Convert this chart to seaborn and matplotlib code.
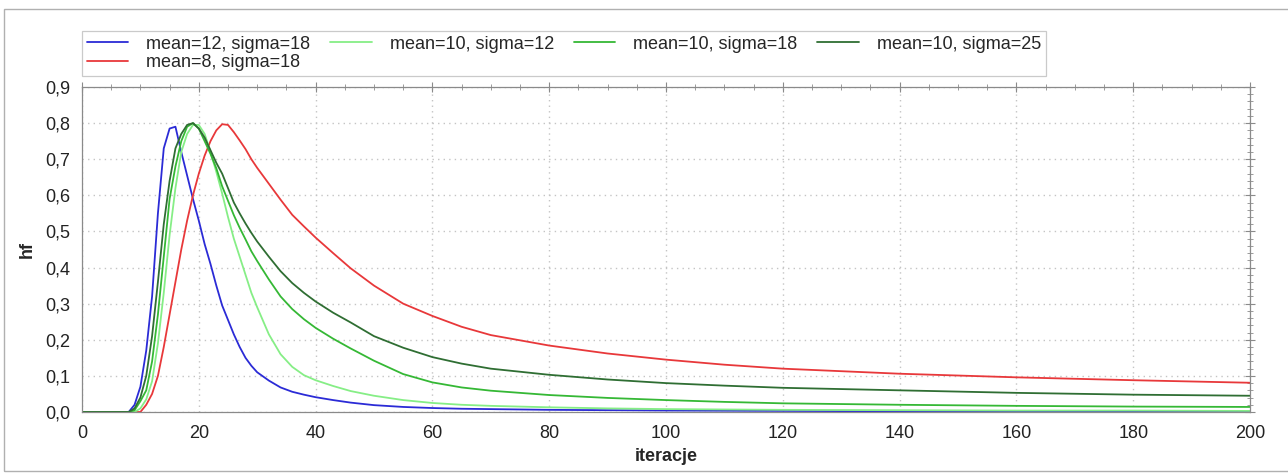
import numpy as np
import pandas as pd
import matplotlib
matplotlib.use("Agg")
import matplotlib.pyplot as plt
import matplotlib.patches as mpatches
from matplotlib.ticker import MultipleLocator, FuncFormatter
import seaborn as sns

# ---- data ----
iterations = [0, 8, 9, 10, 11, 12, 13, 14, 15, 16, 17, 18, 19, 20, 21, 22, 23, 24, 25, 26,
              27, 28, 29, 30, 32, 34, 36, 38, 40, 43, 46, 50, 55, 60, 65, 70, 80, 90, 100,
              110, 120, 140, 160, 180, 200]

hf_m12_s18 = [0, 0, 0.02, 0.07, 0.17, 0.32, 0.55, 0.73, 0.785, 0.79, 0.72, 0.655, 0.59, 0.53,
              0.465, 0.41, 0.35, 0.295, 0.255, 0.215, 0.18, 0.15, 0.128, 0.11, 0.087, 0.068,
              0.056, 0.048, 0.041, 0.033, 0.026, 0.019, 0.014, 0.011, 0.009, 0.008, 0.006,
              0.005, 0.004, 0.0035, 0.003, 0.002, 0.002, 0.001, 0.001]

hf_m8_s18 = [0, 0, 0, 0, 0.02, 0.05, 0.10, 0.18, 0.27, 0.36, 0.45, 0.53, 0.60, 0.66, 0.71,
             0.75, 0.78, 0.797, 0.795, 0.775, 0.752, 0.728, 0.70, 0.676, 0.632, 0.588, 0.546,
             0.514, 0.483, 0.44, 0.398, 0.35, 0.30, 0.266, 0.236, 0.213, 0.184, 0.162, 0.145,
             0.131, 0.12, 0.106, 0.096, 0.088, 0.081]

hf_m10_s12 = [0, 0, 0, 0.01, 0.035, 0.085, 0.19, 0.33, 0.49, 0.62, 0.72, 0.77, 0.795, 0.795,
              0.77, 0.72, 0.665, 0.605, 0.54, 0.48, 0.43, 0.38, 0.33, 0.29, 0.215, 0.16,
              0.125, 0.102, 0.088, 0.072, 0.058, 0.045, 0.033, 0.025, 0.02, 0.017, 0.013,
              0.010, 0.008, 0.007, 0.006, 0.005, 0.004, 0.004, 0.003]

hf_m10_s18 = [0, 0, 0.005, 0.03, 0.06, 0.14, 0.27, 0.43, 0.59, 0.68, 0.75, 0.79, 0.80, 0.785,
              0.75, 0.715, 0.675, 0.625, 0.585, 0.545, 0.51, 0.478, 0.445, 0.418, 0.367, 0.32,
              0.285, 0.257, 0.233, 0.203, 0.176, 0.142, 0.105, 0.082, 0.068, 0.059, 0.047,
              0.039, 0.033, 0.028, 0.024, 0.020, 0.017, 0.015, 0.014]

hf_m10_s25 = [0, 0, 0.01, 0.04, 0.10, 0.21, 0.36, 0.52, 0.64, 0.73, 0.77, 0.795, 0.80, 0.785,
              0.76, 0.725, 0.69, 0.66, 0.62, 0.58, 0.55, 0.522, 0.496, 0.472, 0.43, 0.39,
              0.357, 0.33, 0.306, 0.275, 0.248, 0.21, 0.178, 0.152, 0.134, 0.12, 0.103,
              0.09, 0.08, 0.073, 0.067, 0.06, 0.053, 0.048, 0.045]

series_labels = ["mean=12, sigma=18", "mean=8, sigma=18", "mean=10, sigma=12",
                 "mean=10, sigma=18", "mean=10, sigma=25"]
series_values = [hf_m12_s18, hf_m8_s18, hf_m10_s12, hf_m10_s18, hf_m10_s25]
series_colors = ["#2b2bd6", "#e8383a", "#86ee86", "#35b835", "#2f6e33"]

x_label = "iteracje"
y_label = "hf"

# ---- build long-form table ----
frames = []
for lab, vals in zip(series_labels, series_values):
    frames.append(pd.DataFrame({"iteracje": iterations, "hf": vals, "series": lab}))
df = pd.concat(frames, ignore_index=True)

sns.set_style("white")
plt.rcParams['font.family'] = ['Liberation Sans', 'DejaVu Sans']

fig = plt.figure(figsize=(12.88, 4.76), dpi=100)
W, H = 1288, 476
ax = fig.add_axes([82 / W, 1 - 412 / H, (1250 - 82) / W, (412 - 87) / H])

palette = dict(zip(series_labels, series_colors))
sns.lineplot(data=df, x="iteracje", y="hf", hue="series", hue_order=series_labels,
             palette=palette, estimator=None, sort=False, linewidth=1.3, ax=ax, legend=False)

ax.set_xlim(0, 200)
ax.set_ylim(0, 0.9)
ax.xaxis.set_major_locator(MultipleLocator(20))
ax.xaxis.set_minor_locator(MultipleLocator(5))
ax.yaxis.set_major_locator(MultipleLocator(0.1))
ax.yaxis.set_minor_locator(MultipleLocator(0.02))
ax.yaxis.set_major_formatter(FuncFormatter(lambda v, p: f"{v:.1f}".replace(".", ",")))
ax.xaxis.set_major_formatter(FuncFormatter(lambda v, p: f"{int(round(v))}"))

ax.tick_params(which="both", direction="inout", top=True, right=True,
               color="#8a8a8a", labelsize=13, labelcolor="#222222")
ax.tick_params(which="major", length=7, width=0.8, pad=6)
ax.tick_params(which="minor", length=4, width=0.6)
ax.tick_params(axis="y", which="major", pad=5)

ax.grid(True, which="major", color="#c4c4c4", linestyle=(0, (1, 3)), linewidth=1.0)
for s in ax.spines.values():
    s.set_visible(True)
    s.set_color("#8a8a8a")
    s.set_linewidth(0.9)

ax.set_xlabel(x_label, fontsize=13, fontweight="bold", labelpad=4)
ax.set_ylabel(y_label, fontsize=13, fontweight="bold", labelpad=7)

# legend
handles = [plt.Line2D([], [], color=c, lw=1.3) for c in series_colors]
leg = fig.legend(handles, series_labels, loc="upper left",
                 bbox_to_anchor=(82 / W, 1 - 31 / H), ncol=4, fontsize=13,
                 frameon=True, fancybox=False, edgecolor="#bdbdbd",
                 handlelength=2.3, handletextpad=1.0, columnspacing=1.1,
                 labelspacing=0.1, borderpad=0.25, borderaxespad=0)
leg.get_frame().set_linewidth(0.9)

# outer frame
fig.patches.append(mpatches.Rectangle((4 / W, 1 - 471 / H), (1300 - 4) / W, (471 - 9) / H,
                                      transform=fig.transFigure, fill=False,
                                      edgecolor="#b0b0b0", linewidth=1.0))

fig.savefig("out.png", dpi=100)
